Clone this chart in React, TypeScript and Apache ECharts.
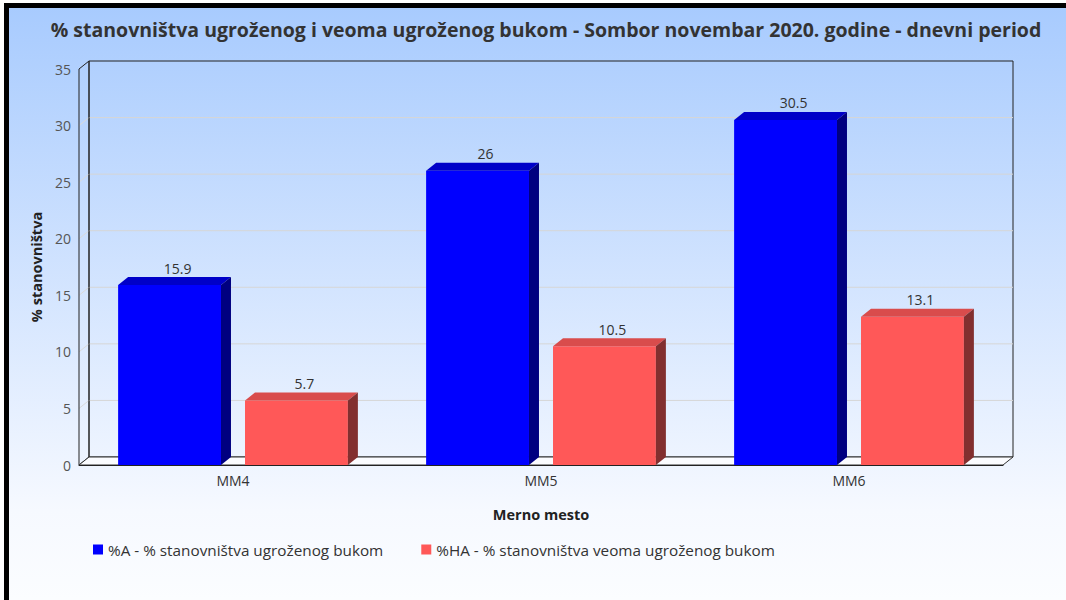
import React, { useEffect, useRef } from "react";
import * as echarts from "echarts";

const categories = ["MM4", "MM5", "MM6"];
const seriesANames = "%A - % stanovništva ugroženog bukom";
const seriesHANames = "%HA - % stanovništva veoma ugroženog bukom";
const valuesA = [15.9, 26, 30.5];
const valuesHA = [5.7, 10.5, 13.1];
const yTicks = [0, 5, 10, 15, 20, 25, 30, 35];

const DX = 10;
const DY = 8;
const FONT = "Open Sans";

function makeBarRender(offsetFrac: number, front: string, topC: string, side: string) {
  return (params: any, api: any) => {
    const cat = api.value(0);
    const val = api.value(1);
    const top = api.coord([cat, val]);
    const base = api.coord([cat, 0]);
    const cw = api.size([1, 0])[0];
    const bw = cw * 0.334;
    const cx = top[0] + cw * offsetFrac;
    const x0 = cx - bw / 2;
    const x1 = cx + bw / 2;
    const yT = top[1];
    const yB = base[1];
    return {
      type: "group",
      children: [
        { type: "rect", shape: { x: x0, y: yT, width: bw, height: yB - yT }, style: { fill: front } },
        {
          type: "polygon",
          shape: { points: [[x0, yT], [x0 + DX, yT - DY], [x1 + DX, yT - DY], [x1, yT]] },
          style: { fill: topC },
        },
        {
          type: "polygon",
          shape: { points: [[x1, yT], [x1 + DX, yT - DY], [x1 + DX, yB - DY], [x1, yB]] },
          style: { fill: side },
        },
        {
          type: "text",
          x: cx + DX / 2 + 3,
          y: yT - DY - 9,
          style: {
            text: String(val),
            align: "center",
            verticalAlign: "middle",
            fontSize: 14,
            fontFamily: FONT,
            fill: "#333",
          },
        },
      ],
    };
  };
}

function frameRender(params: any, api: any) {
  const cs = params.coordSys;
  const L = cs.x;
  const T = cs.y;
  const W = cs.width;
  const H = cs.height;
  const R = L + W;
  const B = T + H;
  const children: any[] = [];
  children.push({
    type: "rect",
    shape: { x: L + DX, y: T - DY, width: W, height: H },
    style: { fill: "none", stroke: "#222", lineWidth: 1 },
  });
  yTicks.forEach((v) => {
    if (v === 0 || v === yTicks[yTicks.length - 1]) return;
    const y = api.coord([0, v])[1];
    children.push({
      type: "line",
      shape: { x1: L + DX, y1: y - DY, x2: R + DX, y2: y - DY },
      style: { stroke: "#d6d6d6", lineWidth: 1 },
    });
    children.push({
      type: "line",
      shape: { x1: L, y1: y, x2: L + DX, y2: y - DY },
      style: { stroke: "#dadada", lineWidth: 1 },
    });
  });
  children.push({
    type: "polygon",
    shape: { points: [[L, T], [L + DX, T - DY], [L + DX, B - DY], [L, B]] },
    style: { fill: "none", stroke: "#222", lineWidth: 1 },
  });
  children.push({
    type: "polygon",
    shape: { points: [[L, B], [L + DX, B - DY], [R + DX, B - DY], [R, B]] },
    style: { fill: "#fbfcff", stroke: "#333", lineWidth: 1 },
  });
  return { type: "group", children };
}

export default function App() {
  const ref = useRef<HTMLDivElement>(null);
  useEffect(() => {
    if (!ref.current) return;
    const chart = echarts.init(ref.current, null, { renderer: "svg" });
    chart.setOption({
      animation: false,
      textStyle: { fontFamily: FONT },
      graphic: [
        {
          type: "rect",
          z: -100,
          silent: true,
          shape: { x: 9, y: 8, width: 1057, height: 592 },
          style: {
            fill: new echarts.graphic.LinearGradient(0, 0, 0, 1, [
              { offset: 0, color: "#a8cbfe" },
              { offset: 0.85, color: "#f6f9ff" },
              { offset: 1, color: "#fbfdff" },
            ]),
          },
        },
        { type: "rect", z: 100, shape: { x: 4, y: 3, width: 5, height: 597 }, style: { fill: "#000" } },
        { type: "rect", z: 100, shape: { x: 4, y: 3, width: 1062, height: 5 }, style: { fill: "#000" } },
      ],
      title: {
        text: "% stanovništva ugroženog i veoma ugroženog bukom - Sombor novembar 2020. godine - dnevni period",
        left: 541,
        textAlign: "center",
        top: 14,
        textStyle: { fontFamily: FONT, fontSize: 19.5, fontWeight: "bold", color: "#333" },
      },
      legend: {
        data: [seriesANames, seriesHANames],
        left: 88,
        top: 537,
        icon: "rect",
        itemWidth: 10,
        itemHeight: 10,
        itemGap: 38,
        textStyle: { fontFamily: FONT, fontSize: 15.3, color: "#333" },
      },
      grid: { left: 79, top: 69, width: 924, height: 396, containLabel: false },
      xAxis: {
        type: "category",
        data: categories,
        axisLine: { show: true, lineStyle: { color: "#222", width: 1 } },
        axisTick: { show: false },
        axisLabel: { fontSize: 14, color: "#333", margin: 8, fontFamily: FONT },
        name: "Merno mesto",
        nameLocation: "middle",
        nameGap: 42,
        nameTextStyle: { fontSize: 14.5, fontWeight: "bold", color: "#222", fontFamily: FONT },
        z: 5,
      },
      yAxis: {
        type: "value",
        min: 0,
        max: 35,
        interval: 5,
        axisLine: { show: false },
        axisTick: { show: false },
        splitLine: { show: false },
        axisLabel: { fontSize: 14, color: "#555", margin: 8, fontFamily: FONT },
        name: "% stanovništva",
        nameLocation: "middle",
        nameGap: 35,
        nameTextStyle: { fontSize: 14.5, fontWeight: "bold", color: "#222", fontFamily: FONT },
      },
      series: [
        {
          type: "custom",
          name: "frame",
          z: 1,
          silent: true,
          renderItem: frameRender,
          data: [[0, 0]],
          encode: { x: 0, y: 1 },
        },
        {
          type: "custom",
          name: seriesANames,
          z: 3,
          itemStyle: { color: "#0000ff" },
          renderItem: makeBarRender(-0.206, "#0000ff", "#0000c8", "#000080"),
          data: valuesA.map((v, i) => [i, v]),
          encode: { x: 0, y: 1 },
        },
        {
          type: "custom",
          name: seriesHANames,
          z: 3,
          itemStyle: { color: "#ff5858" },
          renderItem: makeBarRender(0.206, "#ff5858", "#d94c4c", "#822f2f"),
          data: valuesHA.map((v, i) => [i, v]),
          encode: { x: 0, y: 1 },
        },
      ],
    });
    return () => chart.dispose();
  }, []);
  return (
    <div
      ref={ref}
      style={{ position: "fixed", left: 0, top: 0, width: 1066, height: 600, background: "#fff" }}
    />
  );
}
